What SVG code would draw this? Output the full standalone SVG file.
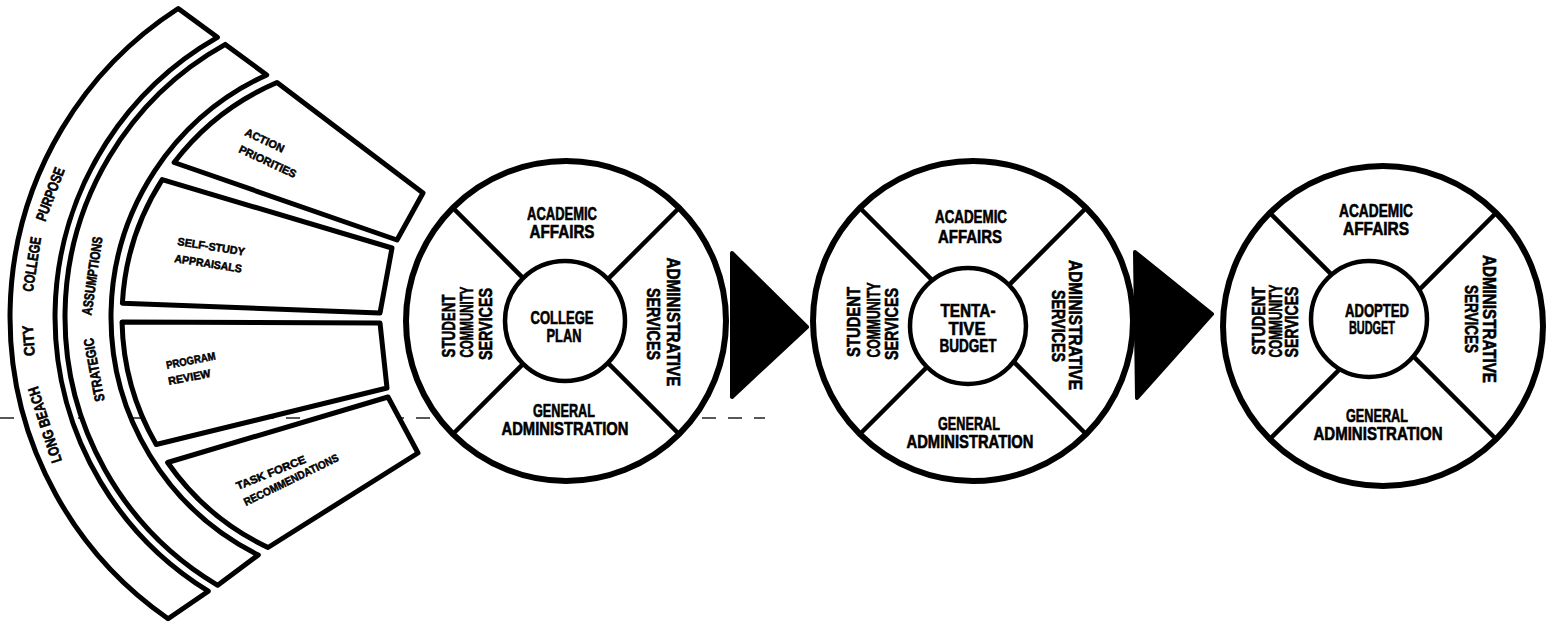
<svg xmlns="http://www.w3.org/2000/svg" width="1555" height="629" viewBox="0 0 1555 629">
<style>
.sh{fill:#fff;stroke:#000;stroke-width:5;stroke-linejoin:round}
.oc{fill:#fff;stroke:#000;stroke-width:6}
.ic{fill:#fff;stroke:#000;stroke-width:4.5}
.dg{stroke:#000;stroke-width:4.5;fill:none}
.ar{fill:#000;stroke:#000;stroke-width:4;stroke-linejoin:round}
.t{font-family:"Liberation Sans Narrow","Liberation Sans",Arial,sans-serif;font-weight:bold;fill:#000;stroke:#000;stroke-width:0.6;font-size:18px;text-anchor:middle}
.b1{font-family:"Liberation Sans Narrow","Liberation Sans",Arial,sans-serif;font-weight:bold;fill:#000;stroke:#000;stroke-width:0.6;font-size:15px;text-anchor:middle}
.s{font-family:"Liberation Sans Narrow","Liberation Sans",Arial,sans-serif;font-weight:bold;fill:#000;stroke:#000;stroke-width:0.5;font-size:11px}
.scan{stroke:#222;stroke-width:1.5;stroke-dasharray:14 12;fill:none}
</style>
<rect width="1555" height="629" fill="#fff"/>
<line class="scan" x1="0" y1="418" x2="765" y2="418"/>

<g id="band-purpose">
<path class="sh" d="M168.1 618.7 A367 367 0 0 1 178.2 8.5 L217.4 37.3 A322 322 0 0 0 208.3 591.2 Z"/>
<text class="b1" transform="translate(49.8,423.3) rotate(-108)" textLength="79" lengthAdjust="spacingAndGlyphs">LONG BEACH</text>
<text class="b1" transform="translate(33.8,340.4) rotate(-93.9)" textLength="31" lengthAdjust="spacingAndGlyphs">CITY</text>
<text class="b1" transform="translate(37,265) rotate(-81.3)" textLength="55" lengthAdjust="spacingAndGlyphs">COLLEGE</text>
<text class="b1" transform="translate(55,196) rotate(-69.4)" textLength="56" lengthAdjust="spacingAndGlyphs">PURPOSE</text>
</g>

<g id="band-assumptions">
<path class="sh" d="M217.7 585.3 A312 312 0 0 1 225.3 44.4 L266.7 74.9 A266 266 0 0 0 258.3 555 Z"/>
<text class="b1" style="font-size:14px" transform="translate(98.8,369.1) rotate(-100.6)" textLength="64" lengthAdjust="spacingAndGlyphs">STRATEGIC</text>
<text class="b1" style="font-size:14px" transform="translate(96.9,276.6) rotate(-81.8)" textLength="79" lengthAdjust="spacingAndGlyphs">ASSUMPTIONS</text>
</g>

<g id="box-action">
<path class="sh" d="M174.1 162.5 A255 255 0 0 1 277 82.5 L423 193 L397 240 Z"/>
<text class="s" transform="translate(244,135) rotate(25)" textLength="42" lengthAdjust="spacingAndGlyphs">ACTION</text>
<text class="s" transform="translate(238,152) rotate(25)" textLength="62" lengthAdjust="spacingAndGlyphs">PRIORITIES</text>
</g>

<g id="box-selfstudy">
<path class="sh" d="M122.4 303.2 A255 255 0 0 1 162.2 179.6 L392 248 L380 313 Z"/>
<text class="s" transform="translate(177,245) rotate(9)" textLength="68" lengthAdjust="spacingAndGlyphs">SELF-STUDY</text>
<text class="s" transform="translate(174,262) rotate(9)" textLength="68" lengthAdjust="spacingAndGlyphs">APPRAISALS</text>
</g>

<g id="box-program">
<path class="sh" d="M156.2 444.5 A255 255 0 0 1 122.05 321.9 L380 323 L387 388 Z"/>
<text class="s" transform="translate(167,369) rotate(-11)" textLength="50" lengthAdjust="spacingAndGlyphs">PROGRAM</text>
<text class="s" transform="translate(169,385) rotate(-11)" textLength="43" lengthAdjust="spacingAndGlyphs">REVIEW</text>
</g>

<g id="box-taskforce">
<path class="sh" d="M268 547.5 A255 255 0 0 1 167.6 462.5 L388 397 L418 453 Z"/>
<text class="s" transform="translate(238,490) rotate(-22)" textLength="74" lengthAdjust="spacingAndGlyphs">TASK FORCE</text>
<text class="s" transform="translate(246,506) rotate(-26)" textLength="104" lengthAdjust="spacingAndGlyphs">RECOMMENDATIONS</text>
</g>

<g id="college-plan">
<circle class="oc" cx="566" cy="321" r="160"/>
<line class="dg" x1="453" y1="208" x2="679" y2="434"/>
<line class="dg" x1="679" y1="208" x2="453" y2="434"/>
<circle class="ic" cx="565" cy="321" r="60"/>
<text class="t" x="562" y="220" textLength="70" lengthAdjust="spacingAndGlyphs">ACADEMIC</text>
<text class="t" x="562" y="238" textLength="65" lengthAdjust="spacingAndGlyphs">AFFAIRS</text>
<text class="t" x="562" y="324" textLength="63" lengthAdjust="spacingAndGlyphs">COLLEGE</text>
<text class="t" x="564" y="342" textLength="35" lengthAdjust="spacingAndGlyphs">PLAN</text>
<text class="t" x="564" y="417" textLength="62" lengthAdjust="spacingAndGlyphs">GENERAL</text>
<text class="t" x="565" y="435" textLength="127" lengthAdjust="spacingAndGlyphs">ADMINISTRATION</text>
<text class="t" transform="translate(455,326) rotate(-90)" textLength="63" lengthAdjust="spacingAndGlyphs">STUDENT</text>
<text class="t" transform="translate(473,322) rotate(-90)" textLength="71" lengthAdjust="spacingAndGlyphs">COMMUNITY</text>
<text class="t" transform="translate(492,324) rotate(-90)" textLength="72" lengthAdjust="spacingAndGlyphs">SERVICES</text>
<text class="t" transform="translate(667,322) rotate(90)" textLength="129" lengthAdjust="spacingAndGlyphs">ADMINISTRATIVE</text>
<text class="t" transform="translate(647,324) rotate(90)" textLength="72" lengthAdjust="spacingAndGlyphs">SERVICES</text>
</g>

<g id="tentative-budget">
<circle class="oc" cx="973" cy="321" r="160"/>
<line class="dg" x1="860" y1="208" x2="1086" y2="434"/>
<line class="dg" x1="1086" y1="208" x2="860" y2="434"/>
<circle class="ic" cx="968" cy="326" r="58"/>
<text class="t" x="971" y="223" textLength="72" lengthAdjust="spacingAndGlyphs">ACADEMIC</text>
<text class="t" x="970" y="243" textLength="64" lengthAdjust="spacingAndGlyphs">AFFAIRS</text>
<text class="t" x="968" y="317" textLength="55" lengthAdjust="spacingAndGlyphs">TENTA-</text>
<text class="t" x="967" y="335" textLength="37" lengthAdjust="spacingAndGlyphs">TIVE</text>
<text class="t" x="968" y="352" textLength="57" lengthAdjust="spacingAndGlyphs">BUDGET</text>
<text class="t" x="969" y="430" textLength="62" lengthAdjust="spacingAndGlyphs">GENERAL</text>
<text class="t" x="970" y="448" textLength="127" lengthAdjust="spacingAndGlyphs">ADMINISTRATION</text>
<text class="t" transform="translate(860,322) rotate(-90)" textLength="70" lengthAdjust="spacingAndGlyphs">STUDENT</text>
<text class="t" transform="translate(880,320) rotate(-90)" textLength="75" lengthAdjust="spacingAndGlyphs">COMMUNITY</text>
<text class="t" transform="translate(898,324) rotate(-90)" textLength="72" lengthAdjust="spacingAndGlyphs">SERVICES</text>
<text class="t" transform="translate(1069,325) rotate(90)" textLength="130" lengthAdjust="spacingAndGlyphs">ADMINISTRATIVE</text>
<text class="t" transform="translate(1052,326) rotate(90)" textLength="72" lengthAdjust="spacingAndGlyphs">SERVICES</text>
</g>

<g id="adopted-budget">
<circle class="oc" cx="1383" cy="326" r="160"/>
<line class="dg" x1="1270" y1="213" x2="1496" y2="439"/>
<line class="dg" x1="1496" y1="213" x2="1270" y2="439"/>
<circle class="ic" cx="1369" cy="319" r="58"/>
<text class="t" x="1376" y="217" textLength="74" lengthAdjust="spacingAndGlyphs">ACADEMIC</text>
<text class="t" x="1376" y="235" textLength="66" lengthAdjust="spacingAndGlyphs">AFFAIRS</text>
<text class="t" x="1377" y="317" textLength="64" lengthAdjust="spacingAndGlyphs">ADOPTED</text>
<text class="t" x="1372" y="334" textLength="46" lengthAdjust="spacingAndGlyphs">BUDGET</text>
<text class="t" x="1377" y="422" textLength="62" lengthAdjust="spacingAndGlyphs">GENERAL</text>
<text class="t" x="1378" y="440" textLength="129" lengthAdjust="spacingAndGlyphs">ADMINISTRATION</text>
<text class="t" transform="translate(1265,321) rotate(-90)" textLength="68" lengthAdjust="spacingAndGlyphs">STUDENT</text>
<text class="t" transform="translate(1282,321) rotate(-90)" textLength="73" lengthAdjust="spacingAndGlyphs">COMMUNITY</text>
<text class="t" transform="translate(1298,322) rotate(-90)" textLength="71" lengthAdjust="spacingAndGlyphs">SERVICES</text>
<text class="t" transform="translate(1483,319) rotate(90)" textLength="128" lengthAdjust="spacingAndGlyphs">ADMINISTRATIVE</text>
<text class="t" transform="translate(1465,319) rotate(90)" textLength="68" lengthAdjust="spacingAndGlyphs">SERVICES</text>
</g>

<g id="connectors">
<polygon class="ar" points="732,253 807,327 732,397"/>
<polygon class="ar" points="1135,252 1212,314 1137,398"/>
</g>
</svg>
